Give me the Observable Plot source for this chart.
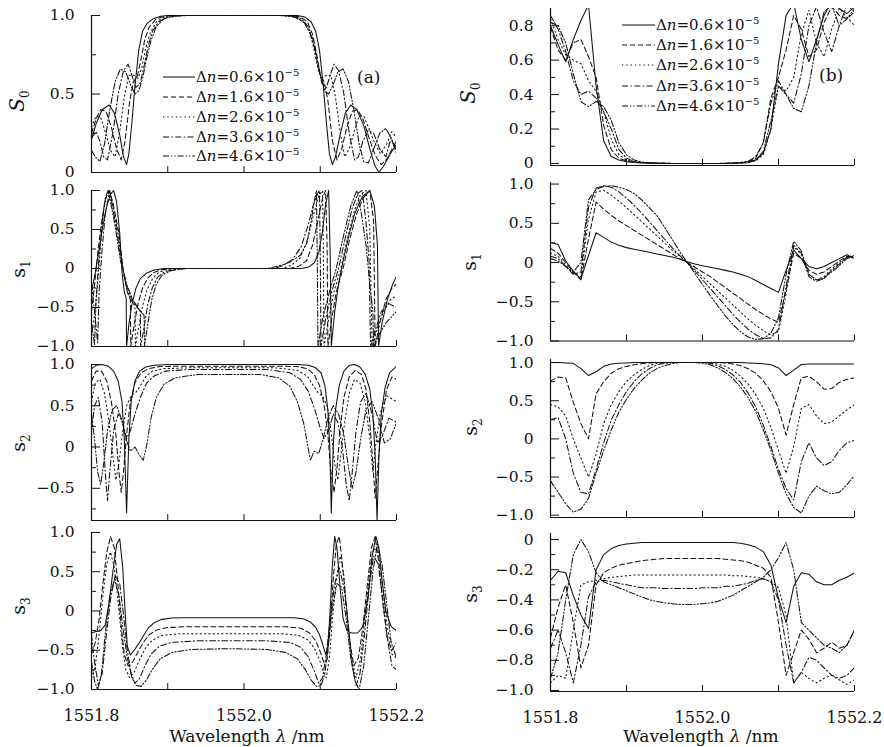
<!DOCTYPE html>
<html><head><meta charset="utf-8">
<script src="https://cdn.jsdelivr.net/npm/d3@7"></script>
<script src="https://cdn.jsdelivr.net/npm/@observablehq/plot@0.6"></script>
<style>
body{margin:0;background:#fff;}
#root{position:relative;width:884px;height:747px;overflow:hidden;font-family:"DejaVu Serif",serif;background:#fff;}
</style></head><body><div id="root"></div>
<script>
// ---------------- DATA ----------------
const legendLabels = ["0.6", "1.6", "2.6", "3.6", "4.6"]; // Δn ×10^-5
const xTickLabels = [1551.8, 1552.0, 1552.2];
const xTicks = [1551.9, 1552.0, 1552.1, 1552.2];

// Panel (a): [wavelength nm, value] pairs
const aS0_06 = [[1551.800,.21],[1551.806,.31],[1551.814,.40],[1551.823,.43],[1551.830,.38],[1551.837,.24],[1551.842,.10],[1551.846,.05],[1551.849,.12],[1551.853,.32],[1551.857,.55],[1551.862,.78],[1551.867,.90],[1551.873,.95],[1551.881,.98],[1551.891,.995],[1551.900,1],[1552.070,1],[1552.080,.99],[1552.088,.96],[1552.094,.90],[1552.099,.78],[1552.104,.55],[1552.108,.32],[1552.112,.12],[1552.116,.05],[1552.120,.10],[1552.126,.24],[1552.133,.38],[1552.140,.43],[1552.148,.40],[1552.157,.30],[1552.165,.15],[1552.172,.04],[1552.177,0],[1552.183,.04],[1552.192,.12],[1552.200,.18]];
const aS0_16 = [[1551.800,.25],[1551.806,.34],[1551.812,.40],[1551.819,.39],[1551.826,.29],[1551.833,.15],[1551.839,.08],[1551.844,.20],[1551.850,.45],[1551.855,.58],[1551.860,.61],[1551.865,.72],[1551.870,.85],[1551.876,.93],[1551.884,.975],[1551.895,.995],[1551.905,1],[1552.062,1],[1552.074,.99],[1552.083,.96],[1552.090,.88],[1552.095,.76],[1552.100,.62],[1552.105,.58],[1552.110,.46],[1552.116,.20],[1552.122,.08],[1552.128,.15],[1552.135,.29],[1552.142,.39],[1552.149,.40],[1552.156,.34],[1552.164,.22],[1552.172,.11],[1552.180,.05],[1552.188,.09],[1552.195,.16],[1552.200,.20]];
const aS0_26 = [[1551.800,.29],[1551.806,.36],[1551.812,.35],[1551.818,.26],[1551.825,.14],[1551.831,.10],[1551.837,.26],[1551.843,.48],[1551.849,.62],[1551.855,.62],[1551.861,.60],[1551.866,.67],[1551.871,.79],[1551.877,.89],[1551.885,.96],[1551.896,.99],[1551.910,1],[1552.055,1],[1552.068,.99],[1552.080,.95],[1552.087,.88],[1552.092,.78],[1552.097,.66],[1552.102,.60],[1552.108,.62],[1552.114,.62],[1552.120,.48],[1552.126,.26],[1552.132,.10],[1552.138,.15],[1552.145,.27],[1552.151,.36],[1552.157,.36],[1552.164,.28],[1552.171,.19],[1552.179,.12],[1552.187,.18],[1552.194,.26],[1552.200,.22]];
const aS0_36 = [[1551.800,.22],[1551.806,.26],[1551.811,.20],[1551.816,.10],[1551.821,.08],[1551.828,.25],[1551.835,.50],[1551.842,.65],[1551.848,.69],[1551.853,.62],[1551.858,.54],[1551.864,.57],[1551.869,.68],[1551.874,.80],[1551.880,.90],[1551.888,.96],[1551.900,.99],[1551.915,1],[1552.050,1],[1552.066,.99],[1552.078,.96],[1552.086,.90],[1552.092,.80],[1552.097,.68],[1552.102,.57],[1552.108,.54],[1552.113,.62],[1552.118,.69],[1552.124,.65],[1552.131,.50],[1552.138,.25],[1552.145,.08],[1552.150,.10],[1552.156,.20],[1552.163,.27],[1552.170,.25],[1552.178,.15],[1552.186,.10],[1552.193,.22],[1552.200,.12]];
const aS0_46 = [[1551.800,.14],[1551.805,.10],[1551.811,.07],[1551.817,.18],[1551.824,.40],[1551.831,.58],[1551.838,.66],[1551.845,.64],[1551.851,.56],[1551.857,.50],[1551.862,.52],[1551.867,.60],[1551.872,.72],[1551.878,.84],[1551.885,.93],[1551.895,.98],[1551.910,.995],[1551.925,1],[1552.045,1],[1552.062,.995],[1552.075,.98],[1552.084,.93],[1552.091,.84],[1552.096,.72],[1552.101,.60],[1552.106,.52],[1552.111,.50],[1552.117,.56],[1552.123,.64],[1552.130,.66],[1552.137,.58],[1552.144,.40],[1552.151,.18],[1552.157,.07],[1552.163,.06],[1552.170,.15],[1552.178,.25],[1552.186,.28],[1552.193,.22],[1552.200,.14]];

const as1_06 = [[1551.800,-.30],[1551.805,-.05],[1551.810,.25],[1551.815,.55],[1551.820,.80],[1551.825,.95],[1551.829,1],[1551.833,.85],[1551.837,.45],[1551.840,-.05],[1551.843,-.30],[1551.8455,-.38],[1551.846,-1],[1551.849,-.72],[1551.853,-.46],[1551.858,-.26],[1551.864,-.13],[1551.872,-.06],[1551.882,-.02],[1551.895,0],[1552.075,0],[1552.085,.02],[1552.092,.07],[1552.098,.20],[1552.103,.48],[1552.107,.82],[1552.111,1],[1552.113,.2],[1552.1145,-1],[1552.119,-.55],[1552.124,-.20],[1552.130,.10],[1552.137,.40],[1552.145,.70],[1552.155,.92],[1552.165,1],[1552.171,.80],[1552.175,.30],[1552.1765,-1],[1552.181,-.70],[1552.188,-.40],[1552.195,-.20],[1552.200,-.10]];
const as1_16 = [[1551.800,-.55],[1551.804,-.22],[1551.808,.18],[1551.813,.58],[1551.818,.88],[1551.823,1],[1551.828,.85],[1551.836,.45],[1551.842,-.05],[1551.847,-.30],[1551.851,-.40],[1551.8515,-1],[1551.856,-.72],[1551.861,-.45],[1551.867,-.25],[1551.874,-.12],[1551.882,-.05],[1551.892,-.015],[1551.905,0],[1552.060,0],[1552.072,.03],[1552.082,.10],[1552.090,.30],[1552.097,.62],[1552.103,.90],[1552.107,1],[1552.109,.3],[1552.110,-1],[1552.115,-.65],[1552.121,-.30],[1552.130,0],[1552.138,.35],[1552.147,.68],[1552.156,.90],[1552.165,1],[1552.170,.6],[1552.172,-1],[1552.178,-.70],[1552.186,-.40],[1552.194,-.25],[1552.200,-.20]];
const as1_26 = [[1551.800,-.85],[1551.804,-.60],[1551.808,-.20],[1551.812,.30],[1551.816,.75],[1551.821,1],[1551.826,.88],[1551.834,.50],[1551.841,0],[1551.847,-.30],[1551.853,-.42],[1551.857,-.48],[1551.8575,-1],[1551.862,-.75],[1551.867,-.48],[1551.873,-.27],[1551.880,-.13],[1551.888,-.05],[1551.898,-.015],[1551.912,0],[1552.050,0],[1552.062,.04],[1552.073,.13],[1552.083,.35],[1552.091,.68],[1552.098,.93],[1552.103,1],[1552.104,.3],[1552.105,-1],[1552.110,-.70],[1552.118,-.30],[1552.127,0],[1552.136,.40],[1552.145,.75],[1552.153,.95],[1552.160,1],[1552.165,.5],[1552.168,-1],[1552.175,-.75],[1552.183,-.55],[1552.192,-.40],[1552.200,-.35]];
const as1_36 = [[1551.800,-.20],[1551.804,-.55],[1551.808,-.95],[1551.810,-.30],[1551.814,.25],[1551.818,.70],[1551.824,1],[1551.832,.55],[1551.840,.05],[1551.847,-.25],[1551.854,-.42],[1551.860,-.50],[1551.864,-.55],[1551.8645,-1],[1551.869,-.75],[1551.874,-.45],[1551.880,-.24],[1551.887,-.11],[1551.896,-.04],[1551.910,-.01],[1551.925,0],[1552.040,0],[1552.052,.04],[1552.064,.12],[1552.075,.28],[1552.084,.55],[1552.091,.82],[1552.097,.97],[1552.099,1],[1552.100,.2],[1552.101,-1],[1552.107,-.65],[1552.115,-.30],[1552.124,0],[1552.133,.40],[1552.142,.78],[1552.150,.97],[1552.155,1],[1552.160,.60],[1552.164,.10],[1552.166,-1],[1552.172,-.80],[1552.180,-.55],[1552.190,-.45],[1552.200,-.50]];
const as1_46 = [[1551.800,-.70],[1551.804,-.98],[1551.806,-.40],[1551.810,.15],[1551.814,.60],[1551.818,.90],[1551.822,1],[1551.830,.60],[1551.838,.10],[1551.846,-.20],[1551.854,-.40],[1551.862,-.52],[1551.869,-.60],[1551.8695,-1],[1551.874,-.70],[1551.879,-.40],[1551.885,-.20],[1551.893,-.08],[1551.905,-.025],[1551.925,0],[1552.030,0],[1552.045,.03],[1552.060,.08],[1552.074,.17],[1552.082,.32],[1552.088,.60],[1552.092,.85],[1552.095,1],[1552.096,.2],[1552.097,-1],[1552.103,-.65],[1552.112,-.30],[1552.121,0],[1552.130,.40],[1552.140,.80],[1552.148,1],[1552.154,.70],[1552.160,.30],[1552.166,-.30],[1552.169,-.55],[1552.170,-1],[1552.177,-.85],[1552.186,-.70],[1552.200,-.55]];

const as2_06 = [[1551.800,.95],[1551.806,.99],[1551.814,1],[1551.822,.98],[1551.829,.92],[1551.835,.80],[1551.840,.55],[1551.843,.10],[1551.846,-.80],[1551.849,.10],[1551.852,.55],[1551.857,.80],[1551.863,.92],[1551.871,.97],[1551.882,.99],[1551.900,1],[1552.070,1],[1552.085,.99],[1552.094,.96],[1552.101,.90],[1552.106,.75],[1552.110,.45],[1552.1125,0],[1552.1145,-.80],[1552.117,0],[1552.120,.45],[1552.125,.75],[1552.131,.92],[1552.138,.99],[1552.145,1],[1552.152,.97],[1552.159,.88],[1552.165,.70],[1552.169,.40],[1552.172,-.10],[1552.1745,-.89],[1552.177,-.10],[1552.180,.40],[1552.185,.72],[1552.191,.90],[1552.200,.98]];
const as2_16 = [[1551.800,.80],[1551.806,.92],[1551.813,.92],[1551.820,.80],[1551.826,.55],[1551.832,.15],[1551.836,-.30],[1551.839,-.55],[1551.842,-.30],[1551.846,.15],[1551.851,.55],[1551.857,.78],[1551.865,.90],[1551.875,.95],[1551.890,.975],[1551.920,.98],[1552.040,.98],[1552.070,.975],[1552.083,.95],[1552.092,.88],[1552.099,.75],[1552.105,.52],[1552.110,.15],[1552.114,-.30],[1552.118,-.55],[1552.122,-.25],[1552.126,.20],[1552.131,.60],[1552.138,.85],[1552.146,.93],[1552.154,.88],[1552.160,.70],[1552.165,.30],[1552.169,-.20],[1552.172,-.62],[1552.175,-.30],[1552.180,.25],[1552.187,.70],[1552.194,.85],[1552.200,.82]];
const as2_26 = [[1551.800,.55],[1551.805,.78],[1551.811,.82],[1551.817,.65],[1551.823,.30],[1551.828,-.10],[1551.832,-.40],[1551.836,-.20],[1551.841,.20],[1551.846,.50],[1551.852,.62],[1551.858,.66],[1551.864,.74],[1551.871,.85],[1551.880,.92],[1551.895,.95],[1551.930,.96],[1552.040,.96],[1552.070,.93],[1552.083,.86],[1552.091,.74],[1552.097,.66],[1552.103,.62],[1552.109,.50],[1552.114,.20],[1552.119,-.20],[1552.123,-.40],[1552.127,-.10],[1552.132,.30],[1552.138,.65],[1552.145,.82],[1552.152,.78],[1552.159,.55],[1552.165,.10],[1552.169,-.30],[1552.173,.05],[1552.179,.42],[1552.187,.62],[1552.200,.55]];
const as2_36 = [[1551.800,.20],[1551.804,.50],[1551.809,.60],[1551.814,.30],[1551.818,-.30],[1551.821,-.65],[1551.824,-.30],[1551.829,.20],[1551.835,.40],[1551.841,.30],[1551.846,.10],[1551.851,.20],[1551.857,.40],[1551.864,.60],[1551.872,.77],[1551.882,.86],[1551.897,.92],[1551.930,.94],[1552.030,.94],[1552.060,.90],[1552.074,.82],[1552.084,.68],[1552.092,.48],[1552.099,.26],[1552.105,.10],[1552.111,.20],[1552.117,.40],[1552.123,.30],[1552.129,0],[1552.134,-.45],[1552.138,-.65],[1552.142,-.30],[1552.147,.20],[1552.153,.55],[1552.160,.65],[1552.168,.40],[1552.175,.05],[1552.182,.15],[1552.190,.35],[1552.200,.30]];
const as2_46 = [[1551.800,.40],[1551.804,.10],[1551.808,-.30],[1551.812,-.45],[1551.816,-.20],[1551.821,.20],[1551.827,.45],[1551.833,.50],[1551.839,.35],[1551.845,.10],[1551.851,-.05],[1551.857,0],[1551.863,-.10],[1551.868,-.16],[1551.873,.05],[1551.878,.35],[1551.885,.60],[1551.895,.76],[1551.910,.84],[1551.940,.88],[1552.020,.88],[1552.045,.84],[1552.060,.74],[1552.070,.55],[1552.078,.30],[1552.083,.05],[1552.087,-.16],[1552.092,-.05],[1552.098,-.08],[1552.104,.10],[1552.110,.35],[1552.117,.50],[1552.124,.40],[1552.131,.15],[1552.137,-.25],[1552.142,-.50],[1552.147,-.30],[1552.153,.10],[1552.160,.45],[1552.168,.55],[1552.176,.35],[1552.184,.05],[1552.192,.10],[1552.200,.30]];

const as3_06 = [[1551.800,-.28],[1551.806,-.26],[1551.812,-.25],[1551.818,-.18],[1551.823,.10],[1551.828,.50],[1551.833,.85],[1551.837,.92],[1551.841,.55],[1551.844,0],[1551.847,-.45],[1551.851,-.56],[1551.856,-.50],[1551.863,-.40],[1551.869,-.30],[1551.875,-.21],[1551.882,-.15],[1551.891,-.11],[1551.905,-.09],[1551.920,-.085],[1552.065,-.085],[1552.078,-.10],[1552.087,-.14],[1552.094,-.21],[1552.099,-.30],[1552.103,-.42],[1552.107,-.55],[1552.110,-.45],[1552.113,0],[1552.116,.60],[1552.119,.95],[1552.122,.80],[1552.126,.30],[1552.130,-.10],[1552.135,-.25],[1552.141,-.28],[1552.149,-.28],[1552.156,-.20],[1552.163,.20],[1552.168,.70],[1552.173,.95],[1552.177,.80],[1552.181,.40],[1552.186,0],[1552.193,-.20],[1552.200,-.25]];
const as3_16 = [[1551.800,-.55],[1551.805,-.40],[1551.810,-.10],[1551.815,.35],[1551.820,.75],[1551.825,.95],[1551.830,.80],[1551.835,.30],[1551.839,-.20],[1551.843,-.55],[1551.848,-.70],[1551.854,-.65],[1551.861,-.52],[1551.868,-.40],[1551.876,-.30],[1551.886,-.24],[1551.900,-.21],[1551.925,-.20],[1552.055,-.20],[1552.075,-.22],[1552.086,-.28],[1552.094,-.38],[1552.100,-.52],[1552.105,-.66],[1552.109,-.62],[1552.113,-.20],[1552.117,.40],[1552.121,.85],[1552.125,.95],[1552.129,.60],[1552.134,.10],[1552.139,-.40],[1552.144,-.70],[1552.150,-.60],[1552.156,-.20],[1552.162,.35],[1552.167,.80],[1552.172,.95],[1552.177,.60],[1552.182,.10],[1552.188,-.35],[1552.194,-.50],[1552.200,-.40]];
const as3_26 = [[1551.800,-.85],[1551.805,-.70],[1551.810,-.30],[1551.815,.20],[1551.820,.60],[1551.825,.75],[1551.830,.55],[1551.835,.10],[1551.840,-.40],[1551.845,-.75],[1551.850,-.85],[1551.856,-.78],[1551.863,-.62],[1551.871,-.47],[1551.880,-.37],[1551.893,-.31],[1551.915,-.29],[1552.050,-.29],[1552.072,-.31],[1552.084,-.37],[1552.092,-.47],[1552.099,-.62],[1552.104,-.78],[1552.108,-.85],[1552.112,-.60],[1552.116,-.10],[1552.121,.40],[1552.126,.70],[1552.131,.45],[1552.136,-.15],[1552.142,-.65],[1552.147,-.85],[1552.153,-.60],[1552.159,-.05],[1552.165,.50],[1552.170,.80],[1552.176,.75],[1552.182,.30],[1552.188,-.20],[1552.194,-.55],[1552.200,-.60]];
const as3_36 = [[1551.800,-.30],[1551.804,-.65],[1551.809,-.95],[1551.814,-.80],[1551.819,-.35],[1551.825,.15],[1551.831,.45],[1551.837,.35],[1551.842,-.05],[1551.847,-.50],[1551.852,-.80],[1551.857,-.92],[1551.863,-.86],[1551.870,-.70],[1551.878,-.55],[1551.889,-.45],[1551.905,-.40],[1551.940,-.38],[1552.030,-.38],[1552.060,-.40],[1552.074,-.46],[1552.084,-.58],[1552.092,-.76],[1552.098,-.92],[1552.103,-.85],[1552.108,-.55],[1552.113,-.10],[1552.119,.35],[1552.125,.55],[1552.131,.30],[1552.137,-.20],[1552.142,-.70],[1552.147,-.95],[1552.152,-.80],[1552.158,-.30],[1552.164,.30],[1552.170,.70],[1552.176,.60],[1552.182,.15],[1552.188,-.35],[1552.194,-.70],[1552.200,-.75]];
const as3_46 = [[1551.800,-.65],[1551.804,-.90],[1551.808,-1],[1551.813,-.80],[1551.818,-.30],[1551.824,.20],[1551.830,.40],[1551.836,.20],[1551.841,-.20],[1551.847,-.60],[1551.853,-.85],[1551.859,-.95],[1551.865,-.96],[1551.872,-.88],[1551.880,-.74],[1551.890,-.61],[1551.905,-.53],[1551.930,-.49],[1551.980,-.48],[1552.030,-.49],[1552.055,-.53],[1552.070,-.61],[1552.080,-.74],[1552.088,-.88],[1552.095,-.96],[1552.101,-.95],[1552.106,-.80],[1552.111,-.40],[1552.116,.05],[1552.122,.35],[1552.128,.30],[1552.134,-.10],[1552.140,-.60],[1552.146,-.90],[1552.151,-1],[1552.157,-.70],[1552.163,-.10],[1552.169,.50],[1552.175,.85],[1552.181,.60],[1552.187,.10],[1552.193,-.40],[1552.200,-.60]];

// Panel (b): sampled every 0.01 nm
const bWavelength = [1551.80,1551.81,1551.82,1551.83,1551.84,1551.85,1551.86,1551.87,1551.88,1551.89,1551.90,1551.91,1551.92,1551.93,1551.94,1551.95,1551.96,1551.97,1551.98,1551.99,1552.00,1552.01,1552.02,1552.03,1552.04,1552.05,1552.06,1552.07,1552.08,1552.09,1552.10,1552.11,1552.12,1552.13,1552.14,1552.15,1552.16,1552.17,1552.18,1552.19,1552.20];
const bS0_06 = [.80,.69,.59,.72,.83,.92,.45,.13,.04,.02,.01,.005,.003,.002,.001,.001,0,0,0,0,0,0,0,0,.001,.002,.004,.02,.06,.20,.58,.86,.93,.72,.59,.72,.86,.94,.90,.87,.91];
const bS0_16 = [.79,.66,.60,.70,.72,.62,.50,.22,.08,.03,.015,.008,.004,.002,.001,.001,0,0,0,0,0,0,0,0,.001,.003,.008,.03,.12,.38,.50,.66,.86,.78,.62,.66,.82,.91,.86,.84,.88];
const bS0_26 = [.84,.72,.63,.60,.58,.48,.42,.30,.14,.05,.02,.01,.005,.002,.001,0,0,0,0,0,0,0,0,0,.001,.002,.006,.015,.05,.20,.45,.42,.50,.75,.89,.70,.62,.78,.90,.85,.80];
const bS0_36 = [.86,.78,.65,.48,.40,.42,.38,.30,.20,.08,.03,.012,.006,.003,.001,0,0,0,0,0,0,0,0,.001,.003,.006,.012,.04,.12,.35,.48,.40,.35,.52,.80,.91,.76,.65,.80,.92,.88];
const bS0_46 = [.82,.80,.70,.52,.36,.33,.36,.33,.25,.12,.05,.02,.008,.004,.002,.001,0,0,0,0,0,0,0,.001,.002,.005,.012,.02,.07,.25,.45,.40,.32,.30,.45,.70,.88,.92,.80,.84,.90];

const bs1_06 = [.26,.23,.02,-.11,-.21,.09,.38,.32,.26,.22,.19,.17,.15,.13,.11,.09,.07,.045,.01,-.02,-.04,-.06,-.08,-.10,-.12,-.15,-.18,-.23,-.28,-.33,-.38,-.10,.16,.05,-.05,-.08,-.05,0,.05,.10,.05];
const bs1_16 = [.18,.12,0,-.12,-.22,.30,.77,.68,.60,.53,.47,.41,.35,.29,.23,.17,.11,.05,0,-.06,-.12,-.18,-.25,-.32,-.39,-.46,-.53,-.60,-.66,-.72,-.76,-.35,.12,.05,-.10,-.15,-.12,-.05,.02,.08,.06];
const bs1_26 = [.12,.08,-.03,-.14,-.18,.55,.90,.92,.86,.78,.70,.61,.52,.43,.34,.25,.16,.08,0,-.09,-.18,-.27,-.36,-.45,-.54,-.63,-.72,-.80,-.87,-.92,-.88,-.40,.20,.10,-.15,-.22,-.18,-.08,0,.06,.08];
const bs1_36 = [.08,.05,-.05,-.15,-.12,.70,.95,.98,.96,.90,.82,.73,.63,.52,.41,.30,.19,.09,0,-.11,-.22,-.33,-.44,-.55,-.66,-.76,-.85,-.92,-.97,-.96,-.85,-.30,.22,.12,-.18,-.24,-.20,-.10,-.02,.07,.09];
const bs1_46 = [.05,.02,-.05,-.12,0,.80,.93,.97,.98,.96,.93,.88,.80,.70,.60,.45,.30,.14,0,-.14,-.28,-.42,-.55,-.68,-.79,-.88,-.95,-.98,-.97,-.90,-.70,-.15,.27,.15,-.15,-.22,-.20,-.12,-.04,.05,.08];

const bs2_06 = [1,1,.995,.99,.92,.83,.88,.95,.98,.99,.995,1,1,1,1,1,1,1,1,1,1,1,1,1,1,1,.995,.99,.985,.97,.93,.83,.90,.975,.98,.98,.98,.98,.98,.98,.98];
const bs2_16 = [.76,.81,.80,.48,.20,0,.59,.75,.86,.92,.95,.97,.985,.995,1,1,1,1,1,1,1,1,1,.995,.98,.96,.92,.86,.76,.62,.40,.05,.45,.80,.82,.75,.65,.66,.74,.78,.80];
const bs2_26 = [.45,.42,.30,0,-.25,-.50,-.20,.20,.45,.62,.75,.84,.91,.96,.99,1,1,1,1,1,1,1,.98,.95,.90,.82,.72,.58,.40,.15,-.15,-.45,-.10,.40,.45,.30,.20,.22,.30,.38,.45];
const bs2_36 = [.25,.28,0,-.45,-.70,-.72,-.40,-.05,.25,.45,.62,.75,.85,.92,.97,.99,1,1,1,1,1,.99,.96,.91,.84,.74,.60,.42,.18,-.10,-.40,-.65,-.80,-.30,-.05,-.25,-.35,-.30,-.15,-.05,-.02];
const bs2_46 = [-.55,-.70,-.85,-.96,-.92,-.78,-.45,-.15,.12,.35,.52,.66,.77,.86,.92,.96,.985,1,1,1,.99,.97,.93,.87,.79,.68,.54,.36,.12,-.15,-.45,-.72,-.90,-.97,-.75,-.62,-.68,-.72,-.70,-.60,-.48];

const bs3_06 = [-.27,-.21,-.22,-.37,-.50,-.59,-.20,-.10,-.06,-.04,-.03,-.025,-.02,-.02,-.02,-.02,-.02,-.02,-.02,-.02,-.02,-.02,-.02,-.02,-.02,-.025,-.035,-.05,-.08,-.17,-.39,-.55,-.31,-.22,-.23,-.28,-.30,-.30,-.27,-.25,-.22];
const bs3_16 = [-.65,-.45,-.30,-.55,-.85,-.70,-.30,-.22,-.19,-.17,-.16,-.15,-.14,-.135,-.13,-.125,-.125,-.125,-.125,-.125,-.125,-.125,-.125,-.13,-.135,-.14,-.15,-.17,-.19,-.25,-.55,-.90,-.75,-.60,-.66,-.75,-.72,-.68,-.72,-.70,-.60];
const bs3_26 = [-.95,-.90,-.92,-.60,-.30,-.28,-.27,-.26,-.25,-.245,-.24,-.235,-.235,-.235,-.235,-.235,-.235,-.235,-.235,-.235,-.235,-.235,-.235,-.235,-.24,-.24,-.245,-.25,-.26,-.28,-.32,-.50,-.95,-.88,-.92,-.95,-.92,-.90,-.93,-.96,-.93];
const bs3_36 = [-.72,-.60,-.75,-.95,-.70,-.38,-.28,-.27,-.28,-.29,-.30,-.31,-.32,-.32,-.32,-.325,-.325,-.325,-.325,-.325,-.32,-.32,-.32,-.31,-.31,-.30,-.29,-.27,-.26,-.28,-.40,-.70,-.95,-.88,-.78,-.80,-.85,-.90,-.92,-.90,-.85];
const bs3_46 = [-.92,-.75,-.40,-.10,0,-.08,-.22,-.28,-.30,-.32,-.34,-.36,-.38,-.40,-.41,-.42,-.425,-.43,-.43,-.43,-.425,-.42,-.41,-.39,-.37,-.34,-.31,-.28,-.25,-.20,-.12,-.02,-.20,-.55,-.60,-.65,-.70,-.72,-.75,-.70,-.60];

// ---------------- RENDER ----------------
const X0 = 1551.8, X1 = 1552.2;
const dashes = [null, "5,3", "1.3,3", "6,2.5,1.3,2.5", "6,2,1.3,2,1.3,2"];
const INK = "#111";
const root = document.getElementById("root");
const pairs = ys => bWavelength.map((x, i) => [x, ys[i]]);
const fmt1 = d => d === 0 ? "0" : (d < 0 ? "\u2212" : "") + Math.abs(d).toFixed(1);

function addPanel(cfg) {
  const {curves, ydom, yMajor, yMinor, fl, ft, fw, fh, bottom, pad} = cfg;
  const ML = 80, MR = 12, MT = 14, MB = bottom ? 44 : 14;
  const kx = (X1 - X0) / fw, ky = (ydom[1] - ydom[0]) / fh;
  const marks = [];
  curves.forEach((c, i) => {
    const o = {x: d => d[0], y: d => d[1], stroke: INK, strokeWidth: 1.05, clip: true};
    if (dashes[i]) o.strokeDasharray = dashes[i];
    marks.push(Plot.line(c, o));
  });
  marks.push(Plot.ruleX([X0], {y1: ydom[0], y2: ydom[1], stroke: INK, strokeWidth: 1.2}));
  marks.push(Plot.ruleY([ydom[0]], {x1: X0, x2: X1, stroke: INK, strokeWidth: 1.2}));
  marks.push(Plot.ruleY(yMajor, {x1: X0, x2: X0 + 9 * kx, stroke: INK}));
  marks.push(Plot.ruleY(yMinor, {x1: X0, x2: X0 + 5 * kx, stroke: INK}));
  marks.push(Plot.ruleX(xTicks, {y1: ydom[0], y2: ydom[0] + 6 * ky, stroke: INK}));
  marks.push(Plot.axisY({ticks: yMajor, tickSize: 0, tickPadding: pad, tickFormat: fmt1, fontSize: 15.5, label: null}));
  if (bottom) marks.push(Plot.axisX({ticks: xTickLabels, tickSize: 0, tickPadding: 20, tickFormat: d => d.toFixed(1), fontSize: 16, label: null}));
  const svg = Plot.plot({
    width: ML + fw + MR, height: MT + fh + MB,
    marginLeft: ML, marginRight: MR, marginTop: MT, marginBottom: MB,
    x: bottom ? {domain: [X0, X1]} : {domain: [X0, X1], axis: null},
    y: {domain: ydom},
    style: {background: "transparent", overflow: "visible", fontFamily: "DejaVu Serif, serif", color: INK, maxWidth: "none"},
    marks
  });
  svg.style.position = "absolute";
  svg.style.left = (fl - ML) + "px";
  svg.style.top = (ft - MT) + "px";
  root.appendChild(svg);
}

const q = [-0.75, -0.25, 0.25, 0.75];
const LX = 91, LW = 305, RX = 550, RW = 304;
// Column (a)
addPanel({curves: [aS0_06, aS0_16, aS0_26, aS0_36, aS0_46], ydom: [0, 1], yMajor: [0, 0.5, 1], yMinor: [0.25, 0.75], fl: LX, ft: 15, fw: LW, fh: 157, pad: 17});
addPanel({curves: [as1_06, as1_16, as1_26, as1_36, as1_46], ydom: [-1, 1], yMajor: [-1, -0.5, 0, 0.5, 1], yMinor: q, fl: LX, ft: 190, fw: LW, fh: 156, pad: 17});
addPanel({curves: [as2_06, as2_16, as2_26, as2_36, as2_46], ydom: [-0.89, 1], yMajor: [-0.5, 0, 0.5, 1], yMinor: q, fl: LX, ft: 364, fw: LW, fh: 156, pad: 17});
addPanel({curves: [as3_06, as3_16, as3_26, as3_36, as3_46], ydom: [-1, 1], yMajor: [-1, -0.5, 0, 0.5, 1], yMinor: q, fl: LX, ft: 532, fw: LW, fh: 157, pad: 17, bottom: true});
// Column (b)
addPanel({curves: [bS0_06, bS0_16, bS0_26, bS0_36, bS0_46].map(pairs), ydom: [-0.012, 0.9], yMajor: [0, 0.2, 0.4, 0.6, 0.8], yMinor: [0.1, 0.3, 0.5, 0.7], fl: RX, ft: 8, fw: RW, fh: 157, pad: 17});
addPanel({curves: [bs1_06, bs1_16, bs1_26, bs1_36, bs1_46].map(pairs), ydom: [-1, 1.02], yMajor: [-1, -0.5, 0, 0.5, 1], yMinor: q, fl: RX, ft: 181.5, fw: RW, fh: 158.5, pad: 17});
addPanel({curves: [bs2_06, bs2_16, bs2_26, bs2_36, bs2_46].map(pairs), ydom: [-1.03, 1.04], yMajor: [-1, -0.5, 0, 0.5, 1], yMinor: q, fl: RX, ft: 359, fw: RW, fh: 158, pad: 17});
addPanel({curves: [bs3_06, bs3_16, bs3_26, bs3_36, bs3_46].map(pairs), ydom: [-1.007, 0.04], yMajor: [-1, -0.8, -0.6, -0.4, -0.2, 0], yMinor: [-0.9, -0.7, -0.5, -0.3, -0.1], fl: RX, ft: 533, fw: RW, fh: 158, pad: 17, bottom: true});

// ---------------- OVERLAY TEXT (titles, legends) ----------------
const ov = d3.select(root).append("svg")
  .attr("width", 884).attr("height", 747)
  .style("position", "absolute").style("left", 0).style("top", 0)
  .style("pointer-events", "none")
  .style("font-family", "DejaVu Serif, serif").attr("fill", INK);

function yTitle(cx, cy, main, sub, italic) {
  const t = ov.append("text").attr("transform", `translate(${cx},${cy}) rotate(-90)`)
    .attr("text-anchor", "middle").attr("dy", "0.35em");
  t.append("tspan").attr("font-size", italic ? 20 : 19).attr("font-style", italic ? "italic" : "normal").text(main);
  t.append("tspan").attr("font-size", 12).attr("dy", 5).text(sub);
}
yTitle(18, 101, "S", "0", true);
yTitle(19, 269, "s", "1", false);
yTitle(19, 443, "s", "2", false);
yTitle(19, 606, "s", "3", false);
yTitle(469, 93, "S", "0", true);
yTitle(470, 262, "s", "1", false);
yTitle(471, 427, "s", "2", false);
yTitle(471, 594, "s", "3", false);

function xTitle(cx) {
  const t = ov.append("text").attr("x", cx).attr("y", 742).attr("text-anchor", "middle").attr("font-size", 17);
  t.append("tspan").text("Wavelength ");
  t.append("tspan").attr("font-style", "italic").text("\u03bb");
  t.append("tspan").text(" /nm");
}
xTitle(247); xTitle(701);

function legend(x0, x1, rows, tag, tx, ty) {
  legendLabels.forEach((lab, i) => {
    const y = rows[i];
    const ln = ov.append("line").attr("x1", x0).attr("x2", x1).attr("y1", y).attr("y2", y)
      .attr("stroke", INK).attr("stroke-width", 1.05);
    if (dashes[i]) ln.attr("stroke-dasharray", dashes[i]);
    const t = ov.append("text").attr("x", x1 + 1).attr("y", y + 5).attr("font-size", 15);
    t.append("tspan").text("\u0394");
    t.append("tspan").attr("font-style", "italic").text("n");
    t.append("tspan").text("=" + lab + "\u00d710");
    t.append("tspan").attr("font-size", 10).attr("dy", -6).text("\u22125");
  });
  ov.append("text").attr("x", tx).attr("y", ty).attr("font-size", 17).text(tag);
}
legend(163, 195, [77, 97, 117, 137, 156], "(a)", 357, 83);
legend(622, 655, [25, 45, 65, 86, 106], "(b)", 819, 81);
</script>
</body></html>
